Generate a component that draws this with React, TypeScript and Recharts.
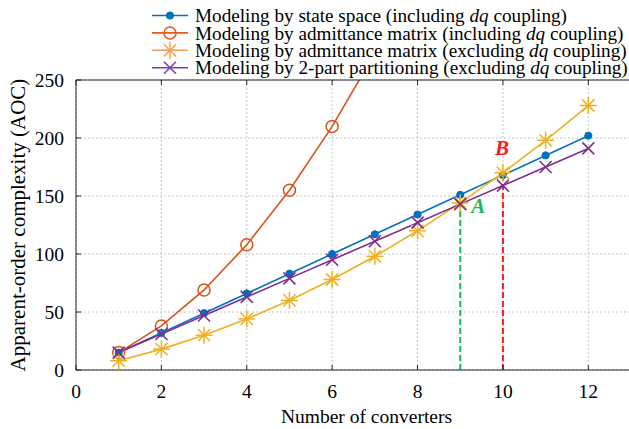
import React from 'react';
import {
  LineChart, Line, XAxis, YAxis, CartesianGrid, Legend, ReferenceLine, ReferenceDot,
} from 'recharts';

// number of converters on the x axis
const converters = [1, 2, 3, 4, 5, 6, 7, 8, 9, 10, 11, 12];

// apparent-order complexity per modelling approach
const stateSpace = [15, 32, 49, 66, 83, 100, 117, 134, 151, 168, 185, 202];
const admittanceDq = [15, 38, 69, 108, 155, 210, 273];
const admittanceNoDq = [8, 18, 30, 44, 60, 78, 98, 120, 144, 170, 198, 228];
const twoPart = [15, 31, 47, 63, 79, 95, 111, 127, 143, 159, 175, 191];

const xTicks = [0, 2, 4, 6, 8, 10, 12];
const yTicks = [0, 50, 100, 150, 200, 250];

// crossover points marked with dashed drops
const pointA = { x: 9, y: 143 };
const pointB = { x: 10, y: 170 };

const FONT = 'Liberation Serif, Times New Roman, serif';
const AXIS = '#262626';

type MarkerKind = 'dot' | 'circle' | 'star' | 'cross';

const series: {
  key: string; color: string; legendColor: string; marker: MarkerKind; before: string; after: string;
}[] = [
  { key: 'ss', color: '#0072BD', legendColor: '#0072BD', marker: 'dot', before: 'Modeling by state space (including ', after: ' coupling)' },
  { key: 'amDq', color: '#D95319', legendColor: '#E8591E', marker: 'circle', before: 'Modeling by admittance matrix (including ', after: ' coupling)' },
  { key: 'amNoDq', color: '#EDB120', legendColor: '#F5A05A', marker: 'star', before: 'Modeling by admittance matrix (excluding ', after: ' coupling)' },
  { key: 'tp', color: '#7E2F8E', legendColor: '#7E3FB0', marker: 'cross', before: 'Modeling by 2-part partitioning (excluding ', after: ' coupling)' },
];

const data = converters.map((n, i) => ({
  n,
  ss: stateSpace[i],
  amDq: admittanceDq[i],
  amNoDq: admittanceNoDq[i],
  tp: twoPart[i],
}));

function Marker({ kind, cx, cy, color }: { kind: MarkerKind; cx: number; cy: number; color: string }) {
  if (kind === 'dot') return <circle cx={cx} cy={cy} r={3.6} fill={color} stroke={color} />;
  if (kind === 'circle') return <circle cx={cx} cy={cy} r={6} fill="none" stroke={color} strokeWidth={1.5} />;
  if (kind === 'cross') {
    const s = 6;
    return (
      <g stroke={color} strokeWidth={1.6}>
        <line x1={cx - s} y1={cy - s} x2={cx + s} y2={cy + s} />
        <line x1={cx - s} y1={cy + s} x2={cx + s} y2={cy - s} />
      </g>
    );
  }
  const s = 8.5;
  const d = s * 0.72;
  return (
    <g stroke={color} strokeWidth={1.5}>
      <line x1={cx} y1={cy - s} x2={cx} y2={cy + s} />
      <line x1={cx - s} y1={cy} x2={cx + s} y2={cy} />
      <line x1={cx - d} y1={cy - d} x2={cx + d} y2={cy + d} />
      <line x1={cx - d} y1={cy + d} x2={cx + d} y2={cy - d} />
    </g>
  );
}

const dotFor = (kind: MarkerKind, color: string) => (p: any) => {
  if (p.cx == null || p.cy == null || p.value == null) return <g key={`e-${p.index}`} />;
  return <g key={`m-${p.index}`}><Marker kind={kind} cx={p.cx} cy={p.cy} color={color} /></g>;
};

const noTick = () => <g />;

function LegendBox() {
  return (
    <svg width={500} height={80} style={{ display: 'block' }}>
      {series.map((s, i) => {
        const cy = 15.5 + i * 17.4;
        return (
          <g key={s.key}>
            <line x1={12} x2={48} y1={cy} y2={cy} stroke={s.legendColor} strokeWidth={1.6} />
            <Marker kind={s.marker} cx={30} cy={cy} color={s.legendColor} />
            <text x={55} y={cy} dy="0.35em" fontSize={19.2} fontFamily={FONT} fill="#000">
              {s.before}
              <tspan fontStyle="italic">dq</tspan>
              {s.after}
            </text>
          </g>
        );
      })}
    </svg>
  );
}

export default function App() {
  return (
    <div style={{ position: 'absolute', left: 0, top: 0, width: 629, height: 429, overflow: 'hidden', background: '#fff' }}>
      <LineChart width={632} height={429} data={data} margin={{ top: 79, right: 0, bottom: 0, left: 0 }}>
        <CartesianGrid stroke="#c4c4c4" strokeDasharray="2 2" />
        <XAxis
          dataKey="n" type="number" domain={[0, 13]} ticks={xTicks} height={59}
          stroke={AXIS} tickSize={-5} tickMargin={19}
          tick={{ fontSize: 19.5, fontFamily: FONT, fill: '#000' }}
          label={{ value: 'Number of converters', position: 'center', dx: 13, dy: 17, fontSize: 19.5, fontFamily: FONT, fill: '#000' }}
        />
        <XAxis
          xAxisId="top" orientation="top" dataKey="n" type="number" domain={[0, 13]} ticks={xTicks}
          height={1} stroke={AXIS} tickSize={-5} tick={noTick}
        />
        <YAxis
          domain={[0, 250]} ticks={yTicks} width={76} allowDataOverflow
          stroke={AXIS} tickSize={-5} tickMargin={17}
          tick={{ fontSize: 19.5, fontFamily: FONT, fill: '#000' }}
          label={{ value: 'Apparent-order complexity (AOC)', angle: -90, position: 'center', dx: -20, fontSize: 21, fontFamily: FONT, fill: '#000' }}
        />
        <YAxis
          yAxisId="right" orientation="right" domain={[0, 250]} ticks={yTicks} width={1}
          stroke={AXIS} tickSize={-5} tick={noTick}
        />
        <Legend
          layout="vertical" align="center" verticalAlign="middle"
          wrapperStyle={{ top: 0, left: 140, width: 500 }}
          content={() => <LegendBox />}
        />
        <ReferenceLine
          segment={[{ x: pointA.x, y: 0 }, { x: pointA.x, y: pointA.y }]}
          stroke="#1DB954" strokeWidth={2} strokeDasharray="6 3"
        />
        <ReferenceLine
          segment={[{ x: pointB.x, y: 0 }, { x: pointB.x, y: pointB.y }]}
          stroke="#FF1A1A" strokeWidth={2} strokeDasharray="6 3"
        />
        {series.map((s) => (
          <Line
            key={s.key} dataKey={s.key} stroke={s.color} strokeWidth={1.6}
            dot={dotFor(s.marker, s.color)} activeDot={false} isAnimationActive={false}
          />
        ))}
        <ReferenceDot
          x={9.42} y={142} r={0} stroke="none" fill="none"
          label={{ value: 'A', position: 'center', fill: '#1DB954', fontSize: 21, fontStyle: 'italic', fontWeight: 'bold', fontFamily: FONT }}
        />
        <ReferenceDot
          x={9.98} y={192} r={0} stroke="none" fill="none"
          label={{ value: 'B', position: 'center', fill: '#FF1A1A', fontSize: 21, fontStyle: 'italic', fontWeight: 'bold', fontFamily: FONT }}
        />
      </LineChart>
    </div>
  );
}
